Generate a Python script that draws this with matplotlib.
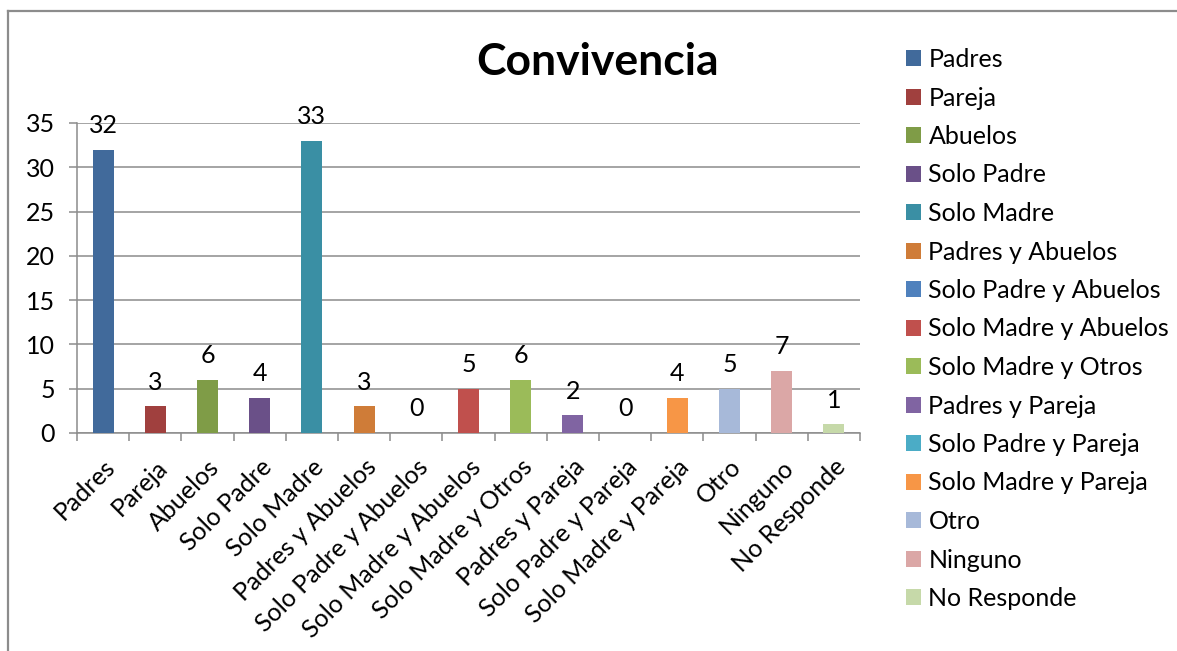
import numpy as np
import matplotlib
matplotlib.use("Agg")
import matplotlib.pyplot as plt
from matplotlib.patches import Patch
from matplotlib.lines import Line2D

plt.rcParams['font.family'] = ['Lato', 'DejaVu Sans']

categorias = ['Padres', 'Pareja', 'Abuelos', 'Solo Padre', 'Solo Madre',
              'Padres y Abuelos', 'Solo Padre y Abuelos', 'Solo Madre y Abuelos',
              'Solo Madre y Otros', 'Padres y Pareja', 'Solo Padre y Pareja',
              'Solo Madre y Pareja', 'Otro', 'Ninguno', 'No Responde']
valores = [32, 3, 6, 4, 33, 3, 0, 5, 6, 2, 0, 4, 5, 7, 1]
colores = ['#416A9B', '#A0403E', '#7F9C47', '#6A5088', '#3A8FA4',
           '#CF7C38', '#4F81BD', '#C0504D', '#9BBB59', '#8064A2',
           '#4BACC6', '#F79646', '#A7B9D9', '#DBA7A6', '#C6D9A9']

gris = '#8C8C8C'
fs = 18
W, H = 1177, 651
fig = plt.figure(figsize=(W / 100, H / 100), dpi=100)
ax = fig.add_axes([77 / W, 1 - 433 / H, (860 - 77) / W, (433 - 123) / H])

x = np.arange(len(categorias))
ax.bar(x, valores, width=0.4, color=colores, zorder=3)

for xi, v in zip(x, valores):
    ax.annotate(str(v), (xi, v), xytext=(0, 9), textcoords='offset points',
                ha='center', va='bottom', fontsize=fs)

ax.set_xlim(-0.5, len(categorias) - 0.5)
ax.set_ylim(0, 35)
ax.set_yticks(range(0, 36, 5))
ax.yaxis.grid(True, color=gris, linewidth=1.1, zorder=0)
ax.tick_params(axis='y', length=6, color=gris, width=1.1, labelsize=fs, pad=10)

ax.set_xticks(x)
ax.set_xticklabels(categorias, rotation=45, ha='right', rotation_mode='anchor',
                   fontsize=fs)
ax.set_xticks(np.arange(-0.5, len(categorias)), minor=True)
ax.tick_params(axis='x', which='major', length=0, pad=16)
ax.tick_params(axis='x', which='minor', length=6, color=gris, width=1.1)

for lado in ['top', 'right']:
    ax.spines[lado].set_visible(False)
for lado in ['left', 'bottom']:
    ax.spines[lado].set_color(gris)
    ax.spines[lado].set_linewidth(1.1)

fig.text(598 / W, 1 - 62 / H, 'Convivencia', ha='center', va='center',
         fontsize=32, fontweight='bold')

handles = [Patch(facecolor=c, edgecolor='none') for c in colores]
fig.legend(handles, categorias, loc='upper left',
           bbox_to_anchor=(906 / W, 1 - 48 / H), frameon=False,
           fontsize=fs, handlelength=0.6, handleheight=0.6,
           handletextpad=0.3, labelspacing=0.62, borderpad=0,
           borderaxespad=0)

# marco exterior del grafico
fig.add_artist(Line2D([8 / W, 8 / W], [0, 1 - 11 / H], color=gris, linewidth=1.6))
fig.add_artist(Line2D([8 / W, 1.01], [1 - 11 / H, 1 - 11 / H], color=gris, linewidth=1.6))

fig.savefig('out.png', dpi=100)
